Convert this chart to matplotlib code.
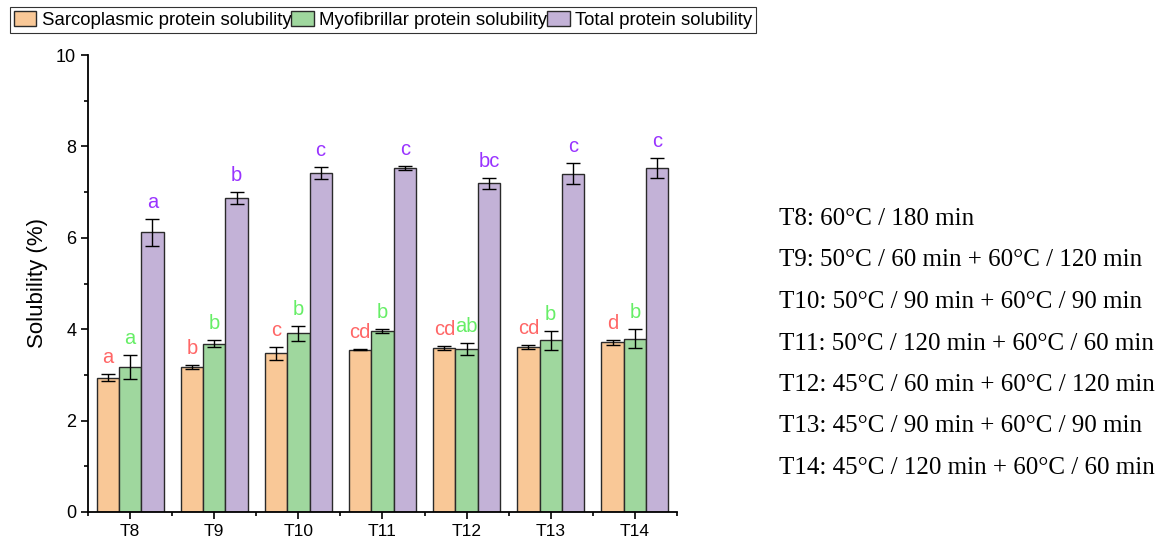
import matplotlib
matplotlib.use("Agg")
import matplotlib.pyplot as plt
from matplotlib.ticker import MultipleLocator, FixedLocator
import numpy as np

categories = ["T8", "T9", "T10", "T11", "T12", "T13", "T14"]
sarco = [2.94, 3.17, 3.47, 3.55, 3.59, 3.61, 3.71]
sarco_err = [0.07, 0.05, 0.15, 0.01, 0.04, 0.04, 0.05]
myo = [3.17, 3.68, 3.91, 3.96, 3.57, 3.76, 3.79]
myo_err = [0.27, 0.08, 0.17, 0.05, 0.13, 0.21, 0.21]
total = [6.12, 6.87, 7.42, 7.53, 7.19, 7.40, 7.53]
total_err = [0.30, 0.13, 0.14, 0.04, 0.12, 0.23, 0.22]
sarco_letters = ["a", "b", "c", "cd", "cd", "cd", "d"]
myo_letters = ["a", "b", "b", "b", "ab", "b", "b"]
total_letters = ["a", "b", "c", "c", "bc", "c", "c"]
series_names = ["Sarcoplasmic protein solubility", "Myofibrillar protein solubility",
                "Total protein solubility"]
notes = ["T8: 60°C / 180 min",
         "T9: 50°C / 60 min + 60°C / 120 min",
         "T10: 50°C / 90 min + 60°C / 90 min",
         "T11: 50°C / 120 min + 60°C / 60 min",
         "T12: 45°C / 60 min + 60°C / 120 min",
         "T13: 45°C / 90 min + 60°C / 90 min",
         "T14: 45°C / 120 min + 60°C / 60 min"]

plt.rcParams['font.family'] = ['Liberation Sans', 'DejaVu Sans']

W, H = 1163, 544
fig = plt.figure(figsize=(W / 100, H / 100), dpi=100)
ax = fig.add_axes([88 / W, 1 - 512 / H, (677 - 88) / W, (512 - 55) / H])

fills = ["#F9C897", "#9FD79E", "#C3B2D7"]
letter_cols = ["#FF6666", "#66EE66", "#9933FF"]
x = np.arange(len(categories))
bw = 0.265
data = [(sarco, sarco_err, sarco_letters), (myo, myo_err, myo_letters),
        (total, total_err, total_letters)]
handles = []
for i, (vals, errs, lets) in enumerate(data):
    xs = x + (i - 1) * bw
    b = ax.bar(xs, vals, bw, color=fills[i], edgecolor="#2a2a2a", linewidth=1.0,
               yerr=errs, capsize=5,
               error_kw=dict(ecolor="black", elinewidth=1.0, capthick=1.0),
               label=series_names[i], zorder=2)
    handles.append(b)
    for xi, v, e, l in zip(xs, vals, errs, lets):
        ax.annotate(l, (xi, v + e), xytext=(0, 5), textcoords="offset points",
                    ha="center", va="bottom", color=letter_cols[i], fontsize=14.5)

ax.set_xlim(-0.5, len(categories) - 0.5)
ax.set_ylim(0, 10)
ax.set_xticks(x)
ax.set_xticklabels(categories, fontsize=12.5)
ax.xaxis.set_minor_locator(FixedLocator(np.arange(-0.5, len(categories), 1.0)))
ax.yaxis.set_major_locator(MultipleLocator(2))
ax.yaxis.set_minor_locator(MultipleLocator(1))
ax.tick_params(axis="y", labelsize=13)
ax.tick_params(which="major", direction="out", length=5, width=1.2)
ax.tick_params(which="minor", direction="out", length=3, width=1.2)
ax.set_ylabel("Solubility (%)", fontsize=16, labelpad=6)
for s in ["top", "right"]:
    ax.spines[s].set_visible(False)
for s in ["left", "bottom"]:
    ax.spines[s].set_linewidth(1.3)

leg = fig.legend(handles=handles, labels=series_names, loc="upper left",
                 bbox_to_anchor=(10 / W, 1 - 7 / H), ncol=3, fontsize=13.4,
                 frameon=True, fancybox=False, edgecolor="black",
                 handlelength=1.2, handleheight=0.9, handletextpad=0.3,
                 columnspacing=0.0, borderpad=0.2, borderaxespad=0)
leg.get_frame().set_linewidth(0.8)

y0 = 219
for k, t in enumerate(notes):
    fig.text(779 / W, 1 - (y0 + k * 41.5) / H, t, fontsize=18,
             family="Liberation Serif", ha="left", va="center")

fig.savefig("out.png", dpi=100)
